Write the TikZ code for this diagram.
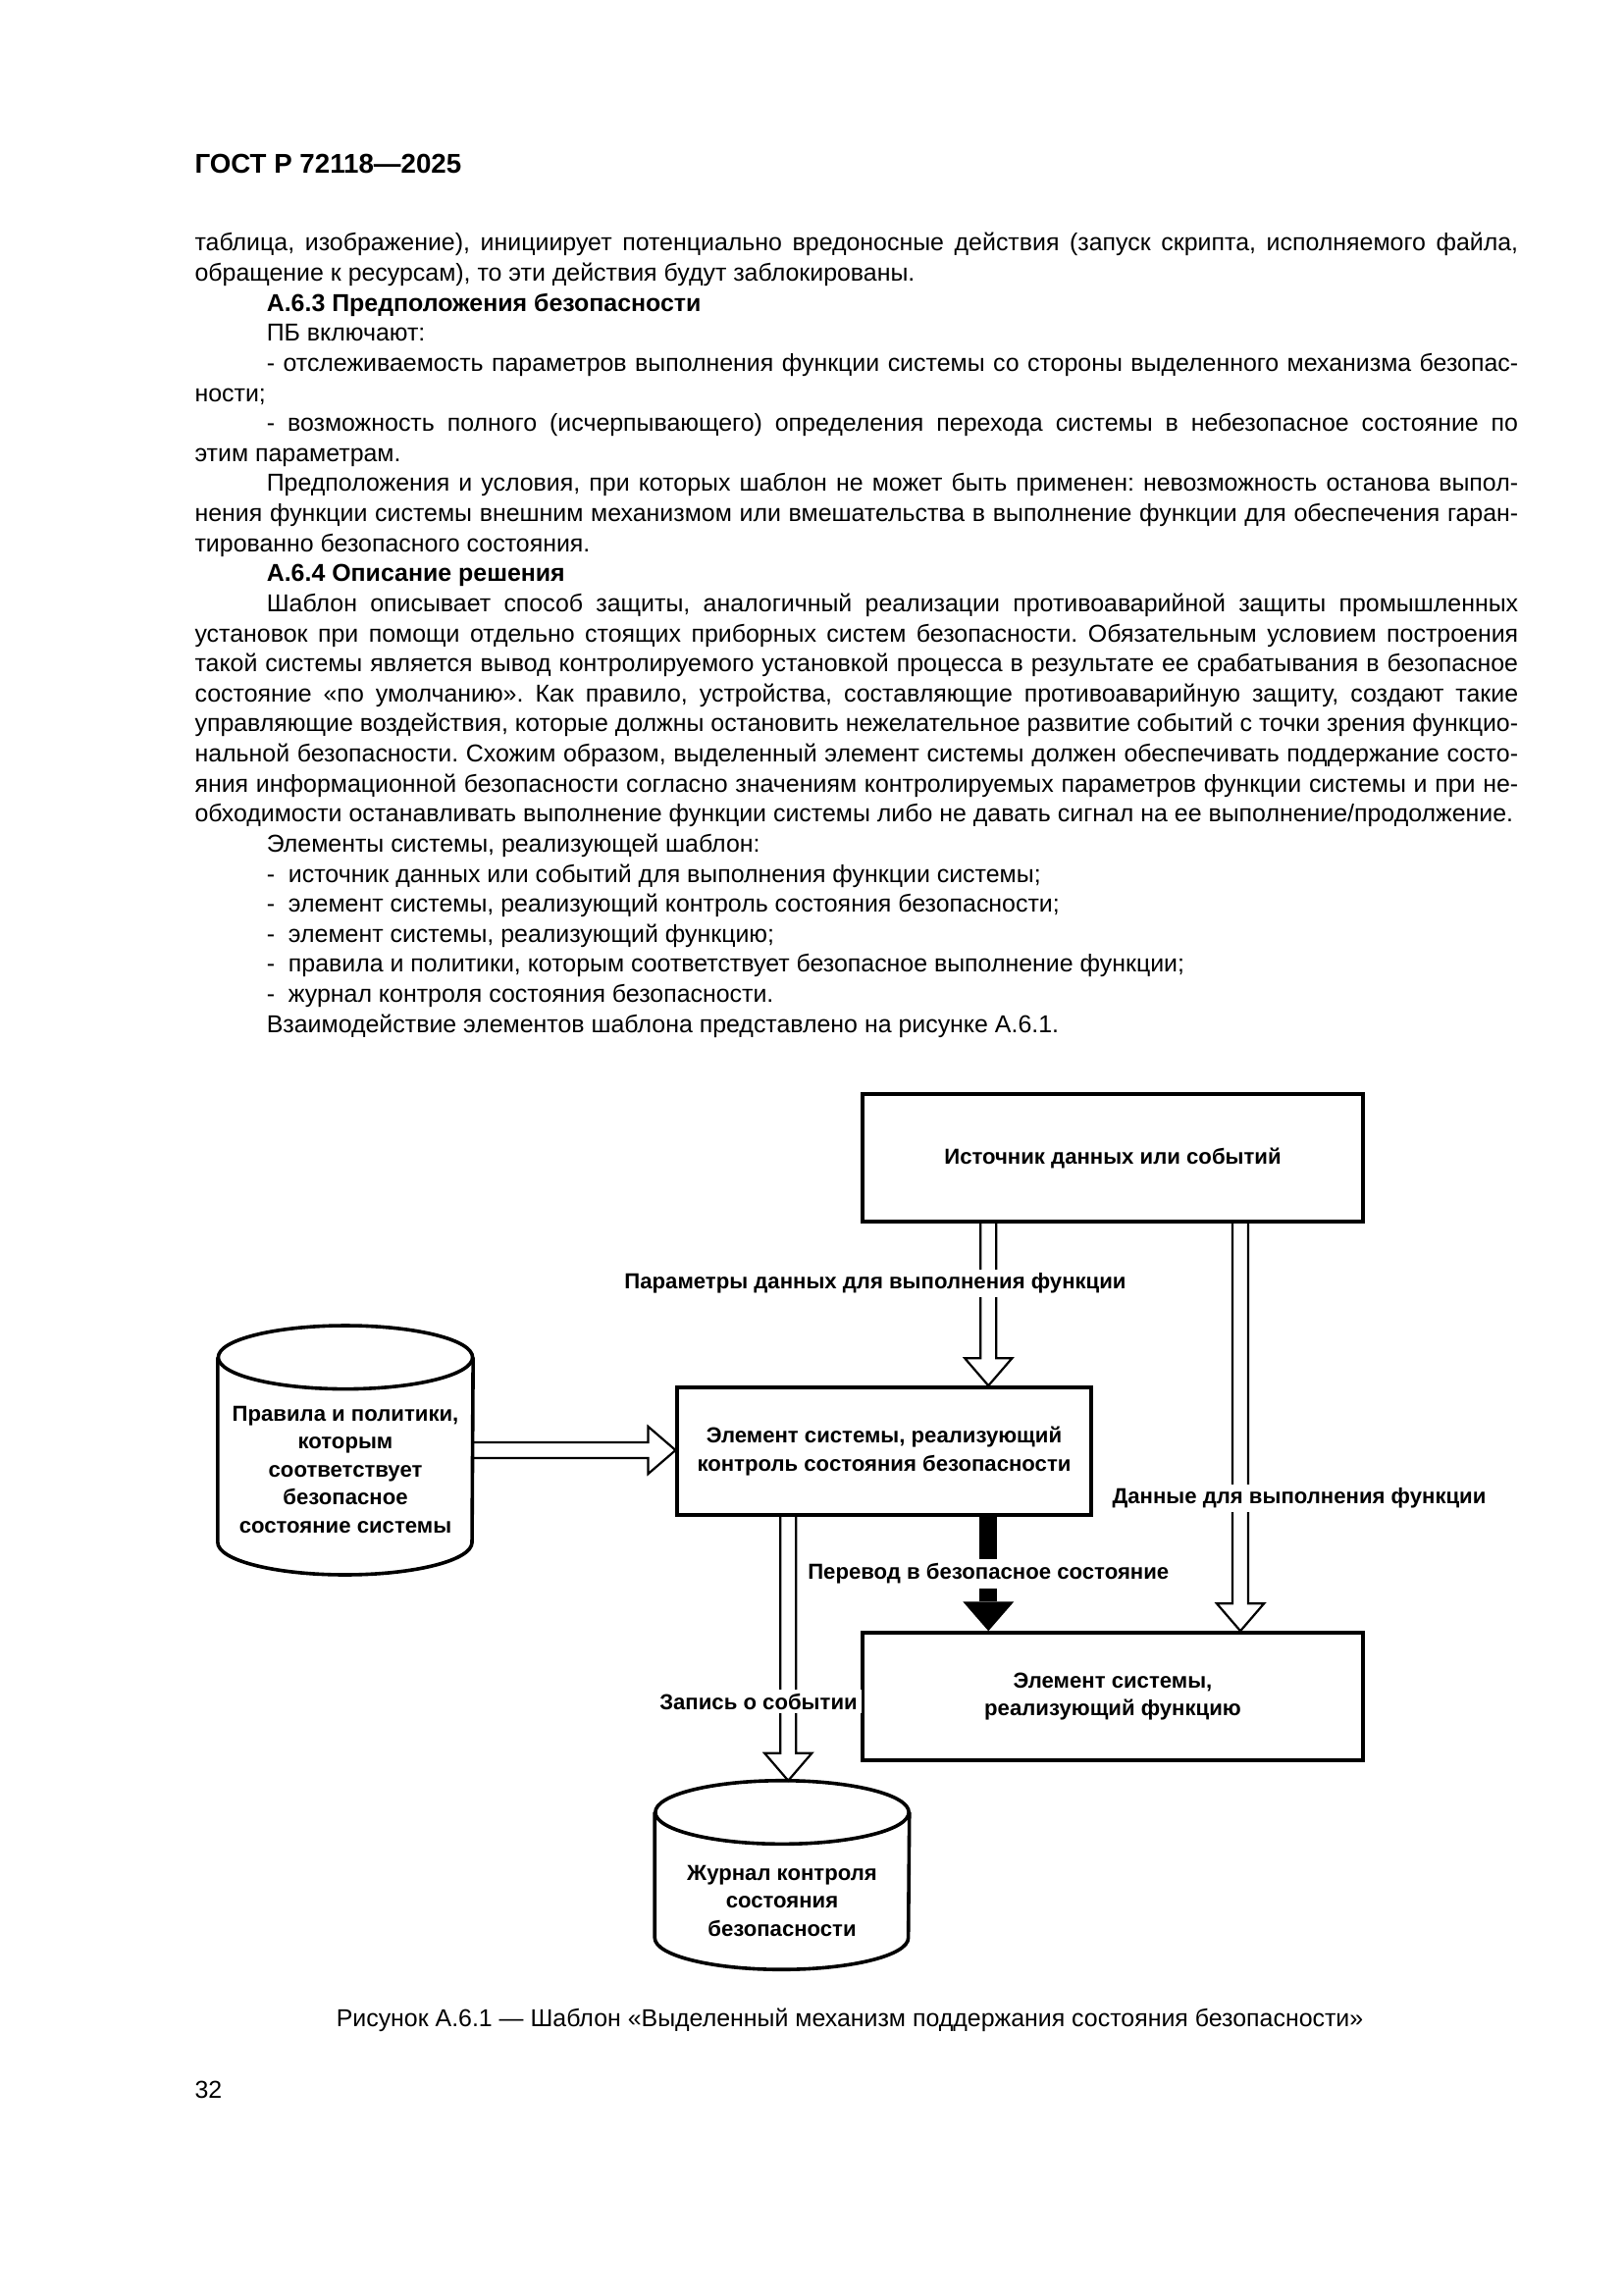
\documentclass[tikz,border=0pt]{standalone}
\usepackage{fontspec}
\setmainfont{Liberation Sans}
\usepackage{tikz}
\usetikzlibrary{calc,arrows.meta}
\frenchspacing

\newcommand{\bodysize}{\fontsize{9pt}{11.06pt}\selectfont}
\newcommand{\labsize}{\fontsize{8pt}{10.3pt}\selectfont\bfseries}

\begin{document}
\begin{tikzpicture}[x=0.0127cm, y=-0.0127cm,
	box/.style={draw, line width=1.3pt, minimum width=6.48cm, minimum height=1.65cm, align=center, font=\labsize, inner sep=0pt},
	cyl/.style={line width=1.3pt},
	lbl/.style={fill=white, inner sep=1.5pt, font=\labsize},
	hollow/.style={line width=0.8pt, line join=miter, to path={
		let \p1=(\tikztostart), \p2=(\tikztotarget),
		\n1={veclen(\x2-\x1,\y2-\y1)}, \n2={atan2(\y2-\y1,\x2-\x1)} in
		($(\p1)+({\n2+90}:2.9pt)$)
		-- ($(\p1)+({\n2}:{\n1-10.1pt})+({\n2+90}:2.9pt)$)
		-- ($(\p1)+({\n2}:{\n1-10.1pt})+({\n2+90}:8.7pt)$)
		-- (\p2)
		-- ($(\p1)+({\n2}:{\n1-10.1pt})+({\n2-90}:8.7pt)$)
		-- ($(\p1)+({\n2}:{\n1-10.1pt})+({\n2-90}:2.9pt)$)
		-- ($(\p1)+({\n2-90}:2.9pt)$)}},
	fatarrow/.style={line width=6.5pt, -{Triangle[length=10.8pt, width=18.8pt, line width=0pt]}}
	]

	\fill[white] (0,0) rectangle (1654,2339);
	\useasboundingbox (0,0) rectangle (1654,2339);

	% page text
	\node[anchor=base west, inner sep=0, font=\fontsize{10pt}{12pt}\selectfont\bfseries] (head) at (198,177) {ГОСТ Р 72118—2025};

	\node[anchor=base west, inner sep=0, text width=17.12cm, align=justify, font=\bodysize] (body) at (198,256) {%
		\setlength{\parindent}{0.93cm}\hyphenpenalty=10000\exhyphenpenalty=10000\tolerance=10000%
		\noindent таблица, изображение), инициирует потенциально вредоносные действия (запуск скрипта, исполняемого файла,\linebreak
		обращение к ресурсам), то эти действия будут заблокированы.\par
		{\bfseries А.6.3 Предположения безопасности}\par
		ПБ включают:\par
		- отслеживаемость параметров выполнения функции системы со стороны выделенного механизма безопас-\linebreak
		ности;\par
		- возможность полного (исчерпывающего) определения перехода системы в небезопасное состояние по\linebreak
		этим параметрам.\par
		Предположения и условия, при которых шаблон не может быть применен: невозможность останова выпол-\linebreak
		нения функции системы внешним механизмом или вмешательства в выполнение функции для обеспечения гаран-\linebreak
		тированно безопасного состояния.\par
		{\bfseries А.6.4 Описание решения}\par
		Шаблон описывает способ защиты, аналогичный реализации противоаварийной защиты промышленных\linebreak
		установок при помощи отдельно стоящих приборных систем безопасности. Обязательным условием построения\linebreak
		такой системы является вывод контролируемого установкой процесса в результате ее срабатывания в безопасное\linebreak
		состояние «по умолчанию». Как правило, устройства, составляющие противоаварийную защиту, создают такие\linebreak
		управляющие воздействия, которые должны остановить нежелательное развитие событий с точки зрения функцио-\linebreak
		нальной безопасности. Схожим образом, выделенный элемент системы должен обеспечивать поддержание состо-\linebreak
		яния информационной безопасности согласно значениям контролируемых параметров функции системы и при не-\linebreak
		обходимости останавливать выполнение функции системы либо не давать сигнал на ее выполнение/продолжение.\par
		Элементы системы, реализующей шаблон:\par
		-~ источник данных или событий для выполнения функции системы;\par
		-~ элемент системы, реализующий контроль состояния безопасности;\par
		-~ элемент системы, реализующий функцию;\par
		-~ правила и политики, которым соответствует безопасное выполнение функции;\par
		-~ журнал контроля состояния безопасности.\par
		Взаимодействие элементов шаблона представлено на рисунке А.6.1.\par};

	% diagram
	\node[box] (src) at (1134,1180) {Источник данных или событий};
	\node[box, minimum width=5.35cm] (ctrl) at (901,1479) {Элемент системы, реализующий\\контроль состояния безопасности};
	\node[box] (func) at (1134,1729) {Элемент системы,\\реализующий функцию};

	\node[minimum width=3.29cm, minimum height=3.21cm, inner sep=0] (rules) at (352,1478) {};
	\draw[cyl] ([yshift=-0.41cm]rules.north) ellipse [x radius=1.645cm, y radius=0.41cm];
	\draw[cyl] ([yshift=-0.41cm]rules.north west) -- ([yshift=0.42cm]rules.south west)
		arc[start angle=180, end angle=360, x radius=1.645cm, y radius=0.42cm] -- ([yshift=-0.41cm]rules.north east);
	\node[font=\labsize, align=center] (rulestext) at ([yshift=-0.25cm]rules.center) {Правила и политики,\\которым\\соответствует\\безопасное\\состояние системы};

	\node[minimum width=3.28cm, minimum height=2.43cm, inner sep=0] (log) at (797,1911) {};
	\draw[cyl] ([yshift=-0.41cm]log.north) ellipse [x radius=1.64cm, y radius=0.41cm];
	\draw[cyl] ([yshift=-0.41cm]log.north west) -- ([yshift=0.41cm]log.south west)
		arc[start angle=180, end angle=360, x radius=1.64cm, y radius=0.41cm] -- ([yshift=-0.41cm]log.north east);
	\node[font=\labsize, align=center] (logtext) at ([yshift=-0.33cm]log.center) {Журнал контроля\\состояния\\безопасности};

	\coordinate (ctrlin) at ($(ctrl.north west)!0.75!(ctrl.north east)$);
	\coordinate (srcout) at ($(src.south west)!0.753!(src.south east)$);
	\coordinate (logout) at ($(ctrl.south west)!0.27!(ctrl.south east)$);

	\draw[hollow] (src.south -| ctrlin) to (ctrlin);
	\draw[hollow] (srcout) to (srcout |- func.north);
	\draw[hollow] (rules.east) to (rules.east -| ctrl.west);
	\draw[hollow] (logout) to (logout |- log.north);
	\draw[fatarrow] (ctrlin |- ctrl.south) -- (ctrlin |- func.north) node[midway, lbl] (safelbl) {Перевод в безопасное состояние};

	\node[lbl] (paramlbl) at (892,1308) {Параметры данных для выполнения функции};
	\node[lbl] (datalbl) at (1324,1527) {Данные для выполнения функции};
	\node[lbl] (loglbl) at (773,1734) {Запись о событии};

	% caption
	\node[font=\bodysize] (caption) at (866,2059) {Рисунок А.6.1 — Шаблон «Выделенный механизм поддержания состояния безопасности»};
	\node[anchor=west, inner sep=0, font=\bodysize] (pageno) at (198,2130) {32};
\end{tikzpicture}
\end{document}
